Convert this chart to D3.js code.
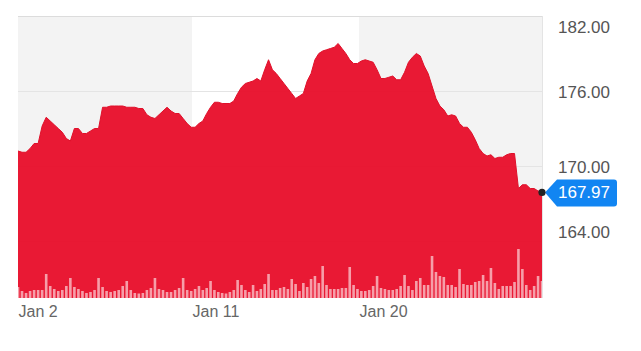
<!DOCTYPE html>
<html>
<head>
<meta charset="utf-8">
<script src="https://cdn.jsdelivr.net/npm/d3@7"></script>
<style>
  html, body { margin: 0; padding: 0; background: #fff; }
  svg { display: block; font-family: "Liberation Sans", Arial, sans-serif; }
</style>
</head>
<body>
<svg id="chart" width="641" height="351"></svg>
<script>
// ---------------- data ----------------
const startDate = new Date(2018, 0, 2, 0, 0);
const stepHours = 5;

const prices = [
  171.2, 171.1, 171.1, 171.4, 171.8, 171.8, 173.2, 173.9, 173.6, 173.3,
  173.0, 172.7, 172.2, 172.0, 173.0, 173.0, 172.6, 172.6, 172.8, 173.0,
  173.0, 174.7, 174.7, 174.8, 174.8, 174.8, 174.8, 174.7, 174.7, 174.7,
  174.6, 174.6, 174.1, 173.9, 173.8, 174.1, 174.4, 174.7, 174.4, 174.2,
  174.2, 173.8, 173.4, 173.1, 173.1, 173.4, 173.6, 174.2, 174.7, 175.1,
  175.1, 175.0, 175.0, 175.0, 175.2, 175.8, 176.3, 176.6, 176.7, 176.8,
  177.0, 176.8, 177.7, 178.5, 177.7, 177.4, 177.0, 176.6, 176.2, 175.8,
  175.4, 175.6, 175.8, 176.8, 177.4, 178.5, 179.0, 179.2, 179.3, 179.4,
  179.5, 179.8, 179.4, 179.0, 178.5, 178.2, 178.2, 178.4, 178.5, 178.4,
  178.3, 177.7, 177.0, 177.0, 177.1, 177.2, 176.9, 176.9, 177.5, 178.3,
  178.7, 179.0, 178.8, 178.0, 177.4, 176.4, 175.4, 174.8, 174.5, 174.0,
  174.1, 174.0, 173.4, 173.1, 173.1, 172.7, 172.1, 171.4, 171.0, 170.8,
  170.9, 170.6, 170.7, 170.7, 170.9, 171.0, 171.0, 168.2, 168.5, 168.5,
  168.2, 168.2, 168.0, 167.97
];

// volume, millions of shares
const volumes = [
  1.1, 0.7, 0.5, 0.7, 0.8, 0.8, 0.8, 2.4, 1.2, 0.9,
  0.7, 0.8, 1.2, 2.0, 1.1, 0.9, 0.7, 0.5, 0.6, 0.8,
  2.0, 1.1, 0.7, 0.6, 0.7, 0.8, 1.2, 1.7, 0.8, 0.5,
  0.45, 0.5, 0.8, 1.0, 2.0, 0.9, 0.8, 0.6, 0.6, 0.8,
  1.0, 2.0, 0.8, 0.7, 0.9, 1.2, 0.8, 1.0, 1.7, 0.8,
  0.6, 0.5, 0.45, 0.6, 0.8, 1.8, 1.3, 0.8, 0.6, 1.3,
  0.7, 0.9, 1.4, 2.4, 0.8, 0.8, 1.0, 1.1, 0.9, 1.9,
  1.4, 0.7, 1.5, 1.1, 1.9, 2.2, 1.5, 3.2, 1.3, 0.9,
  0.9, 0.9, 1.0, 1.0, 3.1, 1.3, 0.9, 0.7, 0.7, 0.8,
  1.2, 2.2, 1.0, 0.9, 0.8, 0.8, 0.9, 1.2, 2.3, 1.2,
  0.8, 1.7, 2.0, 1.3, 1.3, 4.2, 2.6, 2.2, 2.1, 1.3,
  1.3, 1.1, 2.9, 1.4, 1.3, 1.3, 1.6, 1.7, 2.3, 1.7,
  3.0, 1.5, 0.9, 1.2, 1.2, 1.2, 1.6, 4.9, 2.9, 1.3,
  0.8, 1.2, 2.2, 1.7
];

const tickDates = [new Date(2018, 0, 2), new Date(2018, 0, 11), new Date(2018, 0, 20)];
const tickLabels = ["Jan 2", "Jan 11", "Jan 20"];
const priceTicks = [164, 170, 176, 182];
const lastPrice = 167.97;

// ---------------- layout ----------------
const times = prices.map((_, i) => d3.timeHour.offset(startDate, i * stepHours));
const data = prices.map((p, i) => ({ t: times[i], p, v: volumes[i] }));

const pLeft = 18, pRight = 542, pTop = 16, pBottom = 298;

const x = d3.scaleTime()
  .domain([tickDates[0], tickDates[1], tickDates[2], times[times.length - 1]])
  .range([pLeft, 192, 359, pRight]);

const y = d3.scaleLinear().domain([164, 182]).range([241, pTop]);
const yv = d3.scaleLinear().domain([0, 6]).range([pBottom, pBottom - 60]);

const svg = d3.select("#chart");

// background bands (alternating by tick interval)
const bandEdges = [pLeft, x(tickDates[1]), x(tickDates[2]), pRight];
const bands = [
  { x0: bandEdges[0], x1: bandEdges[1], fill: "#f3f3f3" },
  { x0: bandEdges[1], x1: bandEdges[2], fill: "#ffffff" },
  { x0: bandEdges[2], x1: bandEdges[3], fill: "#f3f3f3" }
];
svg.append("g").selectAll("rect").data(bands).join("rect")
  .attr("x", d => d.x0).attr("y", pTop)
  .attr("width", d => d.x1 - d.x0).attr("height", pBottom - pTop)
  .attr("fill", d => d.fill);

// gridlines
svg.append("g").selectAll("line").data(priceTicks).join("line")
  .attr("x1", pLeft).attr("x2", pRight)
  .attr("y1", d => Math.round(y(d)) + 0.5).attr("y2", d => Math.round(y(d)) + 0.5)
  .attr("stroke", d => d === 182 ? "#dcdcdc" : "#e4e4e4").attr("stroke-width", 1);

// right border
svg.append("line")
  .attr("x1", pRight + 0.5).attr("x2", pRight + 0.5).attr("y1", pTop).attr("y2", pBottom)
  .attr("stroke", "#e4e4e4");

// clip
svg.append("clipPath").attr("id", "plotclip").append("rect")
  .attr("x", pLeft).attr("y", pTop).attr("width", pRight - pLeft).attr("height", pBottom - pTop);

const plot = svg.append("g").attr("clip-path", "url(#plotclip)");

// price area
const area = d3.area()
  .x(d => x(d.t))
  .y0(pBottom)
  .y1(d => y(d.p))
  .curve(d3.curveLinear);

plot.append("path").datum(data)
  .attr("d", area)
  .attr("fill", "#e8102c")
  .attr("fill-opacity", 0.96);

plot.append("path").datum(data)
  .attr("d", d3.line().x(d => x(d.t)).y(d => y(d.p)))
  .attr("fill", "none")
  .attr("stroke", "#e0102a")
  .attr("stroke-width", 1);

// volume bars
const barW = 2.6;
plot.append("g").selectAll("rect").data(data).join("rect")
  .attr("x", d => x(d.t) - barW / 2)
  .attr("y", d => yv(d.v))
  .attr("width", barW)
  .attr("height", d => pBottom - yv(d.v))
  .attr("fill", "#ffffff")
  .attr("fill-opacity", 0.58);

// x axis
const xAxis = d3.axisBottom(x)
  .tickValues(tickDates)
  .tickFormat((d, i) => tickLabels[i])
  .tickSize(0)
  .tickPadding(0);
const gx = svg.append("g").attr("transform", `translate(0,${pBottom})`).call(xAxis);
gx.select(".domain").remove();
gx.selectAll("text")
  .attr("text-anchor", "start")
  .attr("dy", null)
  .attr("y", 19)
  .attr("fill", "#666")
  .style("font-size", "16px")
  .style("font-family", '"Liberation Sans", Arial, sans-serif');

// y axis (right)
const yAxis = d3.axisRight(y)
  .tickValues(priceTicks)
  .tickFormat(d3.format(".2f"))
  .tickSize(0);
const gy = svg.append("g").attr("transform", `translate(558,0)`).call(yAxis);
gy.select(".domain").remove();
gy.selectAll(".tick")
  .attr("transform", d => `translate(0,${Math.max(27, Math.min(232, y(d) + 1))})`);
gy.selectAll("text")
  .attr("x", 0)
  .attr("dy", "0.36em")
  .attr("fill", "#555")
  .style("font-size", "17px")
  .style("font-family", '"Liberation Sans", Arial, sans-serif');

// last price marker
const ly = y(lastPrice) + 1;
const tag = svg.append("g");
tag.append("path")
  .attr("d", `M${pRight + 3},${ly} L${pRight + 15},${ly - 13} L${pRight + 72},${ly - 13} Q${pRight + 75},${ly - 13} ${pRight + 75},${ly - 10} L${pRight + 75},${ly + 11} Q${pRight + 75},${ly + 14} ${pRight + 72},${ly + 14} L${pRight + 15},${ly + 14} Z`)
  .attr("fill", "#1185f2");
tag.append("text")
  .attr("x", pRight + 16).attr("y", ly).attr("dy", "0.36em")
  .attr("fill", "#fff")
  .style("font-size", "17px")
  .text(d3.format(".2f")(lastPrice));
svg.append("circle")
  .attr("cx", pRight).attr("cy", ly).attr("r", 3.6)
  .attr("fill", "#222");
</script>
</body>
</html>
